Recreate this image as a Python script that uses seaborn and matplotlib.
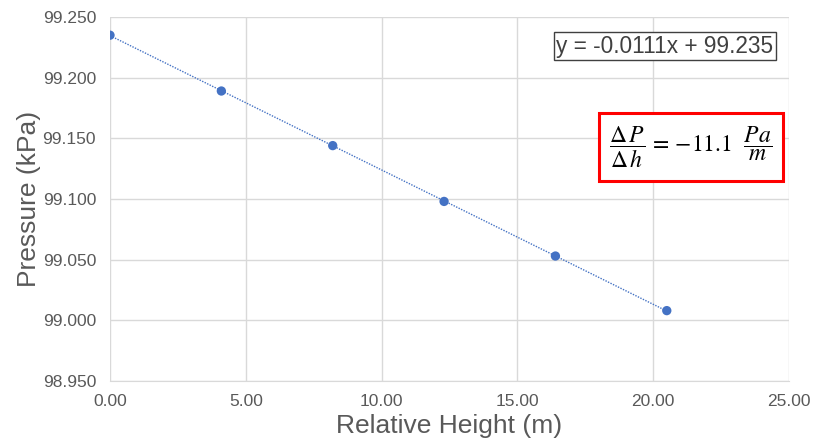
import matplotlib
matplotlib.use("Agg")
import matplotlib.pyplot as plt
import seaborn as sns
import pandas as pd
from matplotlib.ticker import FormatStrFormatter

height_m = [0.0, 4.1, 8.2, 12.3, 16.4, 20.5]
pressure_kpa = [99.235, 99.189, 99.144, 99.098, 99.053, 99.008]
x_ticks = [0, 5, 10, 15, 20, 25]
y_ticks = [98.95, 99.0, 99.05, 99.1, 99.15, 99.2, 99.25]
eq_text = "y = -0.0111x + 99.235"
grad_text = r"$\dfrac{\Delta\,P}{\Delta\,h}\,=\,{-}11.1\ \ \dfrac{Pa}{m}$"

df = pd.DataFrame({"h": height_m, "p": pressure_kpa})

sns.set_style("white")
plt.rcParams['font.family'] = ['Liberation Sans', 'DejaVu Sans']
plt.rcParams['mathtext.fontset'] = 'stix'

fig = plt.figure(figsize=(8.16, 4.47), dpi=100)
ax = fig.add_axes([110/816, 66/447, (789-110)/816, (381-17)/447])

blue = "#4472C4"
sns.regplot(data=df, x="h", y="p", ax=ax, ci=None,
            scatter_kws=dict(s=45, color=blue, edgecolors="none", alpha=1, zorder=3),
            line_kws=dict(color=blue, lw=1.0, ls=(0, (1, 1)), zorder=2))

ax.set_xlim(0, 25)
ax.set_ylim(98.95, 99.25)
ax.set_xticks(x_ticks)
ax.set_yticks(y_ticks)
ax.xaxis.set_major_formatter(FormatStrFormatter("%.2f"))
ax.yaxis.set_major_formatter(FormatStrFormatter("%.3f"))
ax.grid(True, color="#d9d9d9", lw=1)
ax.set_axisbelow(True)
for s in ax.spines.values():
    s.set_visible(False)
ax.spines['bottom'].set_visible(True)
ax.spines['bottom'].set_color("#d9d9d9")
ax.tick_params(axis="both", length=0, labelsize=12.5, colors="#595959")
ax.tick_params(axis="y", pad=10)
ax.tick_params(axis="x", pad=9)
ax.set_xlabel("Relative Height (m)", fontsize=19, color="#595959", labelpad=4)
ax.set_ylabel("Pressure (kPa)", fontsize=19, color="#595959", labelpad=1)

fig.text(665/816, 1 - 46/447, eq_text, fontsize=16.3, color="#404040",
         ha="center", va="center",
         bbox=dict(boxstyle="square,pad=0.12", fc="white", ec="#404040", lw=1))
fig.text(691/816, 1 - 147/447, grad_text, fontsize=17, color="black",
         ha="center", va="center",
         bbox=dict(boxstyle="square,pad=0.46", fc="white", ec="#ff0000", lw=2.2))

fig.savefig("out.png", dpi=100, facecolor="white")
